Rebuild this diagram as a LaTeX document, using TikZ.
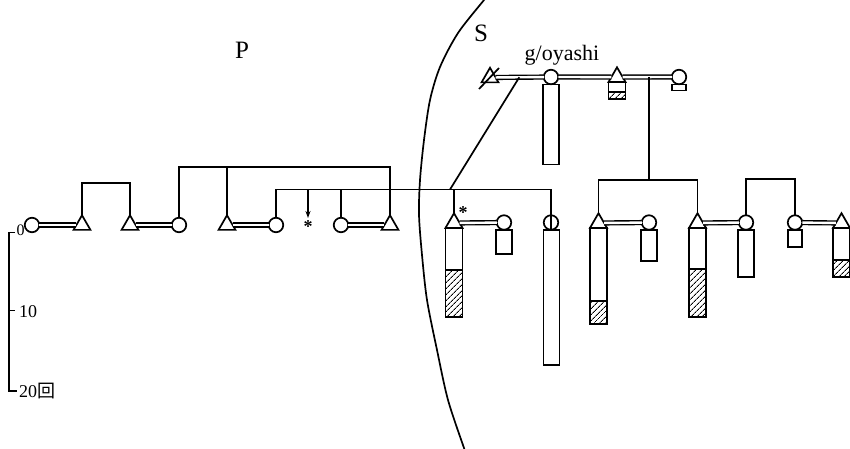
\documentclass[tikz,border=0pt]{standalone}
\usepackage{fontspec}
\setmainfont{Liberation Serif}
\newfontfamily\cjk{Noto Sans CJK JP}
\usetikzlibrary{shapes.geometric,patterns.meta,arrows.meta,calc}
\begin{document}
\begin{tikzpicture}[x=1pt,y=-1pt,
  ln/.style={line width=1.7pt},
  person/.style={draw, line width=1.7pt, inner sep=0pt, outer sep=0pt},
  fem/.style={person, circle, minimum size=14.5pt},
  mal/.style={person, regular polygon, regular polygon sides=3, minimum size=19.5pt},
  pmal/.style={person, regular polygon, regular polygon sides=3, minimum size=19.6pt},
  bar/.style={person, rectangle, anchor=north},
  marr/.style={line width=1.4pt, double, double distance=2.4pt},
  hatch/.style={draw, line width=1.3pt, pattern={Lines[angle=45,distance=4pt,line width=0.9pt]}},
  ast/.style={font=\bfseries\fontsize{18}{18}\selectfont, inner sep=0pt},
  big/.style={font=\fontsize{25}{25}\selectfont, inner sep=0pt},
  scl/.style={font=\fontsize{18}{18}\selectfont, inner sep=0pt}]
\useasboundingbox (0,0) rectangle (850,448);

% ---- left generation (P)
\node[fem] (c1) at (32,225) {};
\node[mal] (t1) at (82,225) {};
\node[mal] (t2) at (130,225) {};
\node[fem] (c2) at (179,225) {};
\node[mal] (t3) at (227,225) {};
\node[fem] (c3) at (276,225) {};
\node[ast] (a1) at (308,227) {*};
\coordinate (a1top) at (308,218);
\node[fem] (c4) at (341,225) {};
\node[mal] (t4) at (390,225) {};

% ---- top right
\node[mal] (tx) at (490,77.5) {};
\node[fem] (g1) at (551,77) {};
\node[bar, minimum width=16pt, minimum height=80pt] (g1b) at (551,84.5) {};
\node[pmal] (tg) at (617,77.1) {};
\node[bar, minimum width=17pt, minimum height=17pt] (tgb) at (617,82) {};
\node[fem] (g2) at (679,77) {};
\node[bar, minimum width=14pt, minimum height=6pt] (g2b) at (679,84.5) {};

% ---- lower right
\node[pmal] (s1) at (454,223) {};
\node[bar, minimum width=17pt, minimum height=89pt] (s1b) at (454,227.9) {};
\node[ast] (a2) at (463,213) {*};
\node[fem] (s2) at (504,222.5) {};
\node[bar, minimum width=16pt, minimum height=24pt] (s2b) at (504,229.7) {};
\node[fem] (s3) at (551,222.5) {};
\node[bar, minimum width=16pt, minimum height=135pt] (s3b) at (551.5,229.7) {};
\node[pmal] (s4) at (598.5,223) {};
\node[bar, minimum width=17pt, minimum height=96pt] (s4b) at (598.5,227.9) {};
\node[fem] (s5) at (649,222.5) {};
\node[bar, minimum width=16pt, minimum height=31pt] (s5b) at (649,229.7) {};
\node[pmal] (s6) at (697.5,223) {};
\node[bar, minimum width=17pt, minimum height=89pt] (s6b) at (697.5,227.9) {};
\node[fem] (s7) at (746,222.5) {};
\node[bar, minimum width=16pt, minimum height=47pt] (s7b) at (746,229.7) {};
\node[fem] (s8) at (795,222.5) {};
\node[bar, minimum width=14pt, minimum height=17pt] (s8b) at (795,229.7) {};
\node[pmal] (s9) at (841.5,223) {};
\node[bar, minimum width=17pt, minimum height=49pt] (s9b) at (841.5,227.9) {};

% hatched parts
\path[hatch] (tgb.south west) rectangle ($(tgb.south east)+(0,-7)$);
\path[hatch] (s1b.south west) rectangle ($(s1b.south east)+(0,-47)$);
\path[hatch] (s4b.south west) rectangle ($(s4b.south east)+(0,-23)$);
\path[hatch] (s6b.south west) rectangle ($(s6b.south east)+(0,-48)$);
\path[hatch] (s9b.south west) rectangle ($(s9b.south east)+(0,-17)$);

% crossed-out triangle
\draw[ln] ($(tx)+(-11,11.5)$) -- ($(tx)+(9,-9.5)$);

% ---- marriages
\draw[marr] (c1) -- (t1);
\draw[marr] (t2) -- (c2);
\draw[marr] (t3) -- (c3);
\draw[marr] (c4) -- (t4);
\draw[marr] (tx) -- (g1);
\draw[marr] (g1) -- (tg);
\draw[marr] (tg) -- (g2);
\draw[marr] (s1) -- (s2);
\draw[marr] (s4) -- (s5);
\draw[marr] (s6) -- (s7);
\draw[marr] (s8) -- (s9);

% ---- sibling lines
\coordinate (L1) at (0,183);
\coordinate (L2) at (0,167);
\coordinate (L3) at (0,189.5);
\coordinate (L4) at (0,180);
\coordinate (L5) at (0,179);
\draw[ln] (t1.corner 1) |- (L1 -| t2) -- (t2.corner 1);
\draw[ln] (c2.north) |- (L2 -| t4) -- (t4.corner 1);
\draw[ln] (t3.corner 1) -- (t3.corner 1 |- L2);
\draw[ln] (c3.north) |- (L3 -| s3) -- (s3.south);
\draw[ln] (c4.north) -- (c4.north |- L3);
\draw[ln] (s1.corner 1) -- (s1.corner 1 |- L3);
\draw[ln, -{Stealth[length=7pt,width=5pt]}] (a1top |- L3) -- (a1top);
\coordinate (m1) at ($(tx)!0.48!(g1)$);
\coordinate (j1) at (450,189.5);
\draw[ln] (m1) -- (j1);
\coordinate (m2) at ($(tg)!0.52!(g2)$);
\draw[ln] (m2) -- (m2 |- L4);
\draw[ln] (s4.corner 1) |- (L4 -| s6) -- (s6.corner 1);
\draw[ln] (s7.north) |- (L5 -| s8) -- (s8.north);

% ---- boundary arc
\draw[ln] plot[smooth] coordinates {(488,-5) (484,0) (458,33) (440,67) (430,100) (424,140) (420,180) (419,215) (422,255) (427,300) (437,350) (448,400) (464,448) (466,453)};

% ---- labels
\node[big] (P) at (242,50) {P};
\node[big] (S) at (481,33) {S};
\node[font=\fontsize{22}{22}\selectfont, inner sep=0pt] (g) at (562,55) {g/oyashi};

% ---- scale
\draw[ln] (15,232.5) -| (9,391) -- (17,391);
\draw[ln] (9,310.5) -- (15,310.5);
\node[font=\fontsize{16}{16}\selectfont, inner sep=0pt, anchor=base west] (n0) at (16.5,235) {0};
\node[scl, anchor=base] (n10) at (28,317) {10};
\node[scl, anchor=base west] (n20) at (19,397.5) {20{\cjk 回}};
\end{tikzpicture}
\end{document}
